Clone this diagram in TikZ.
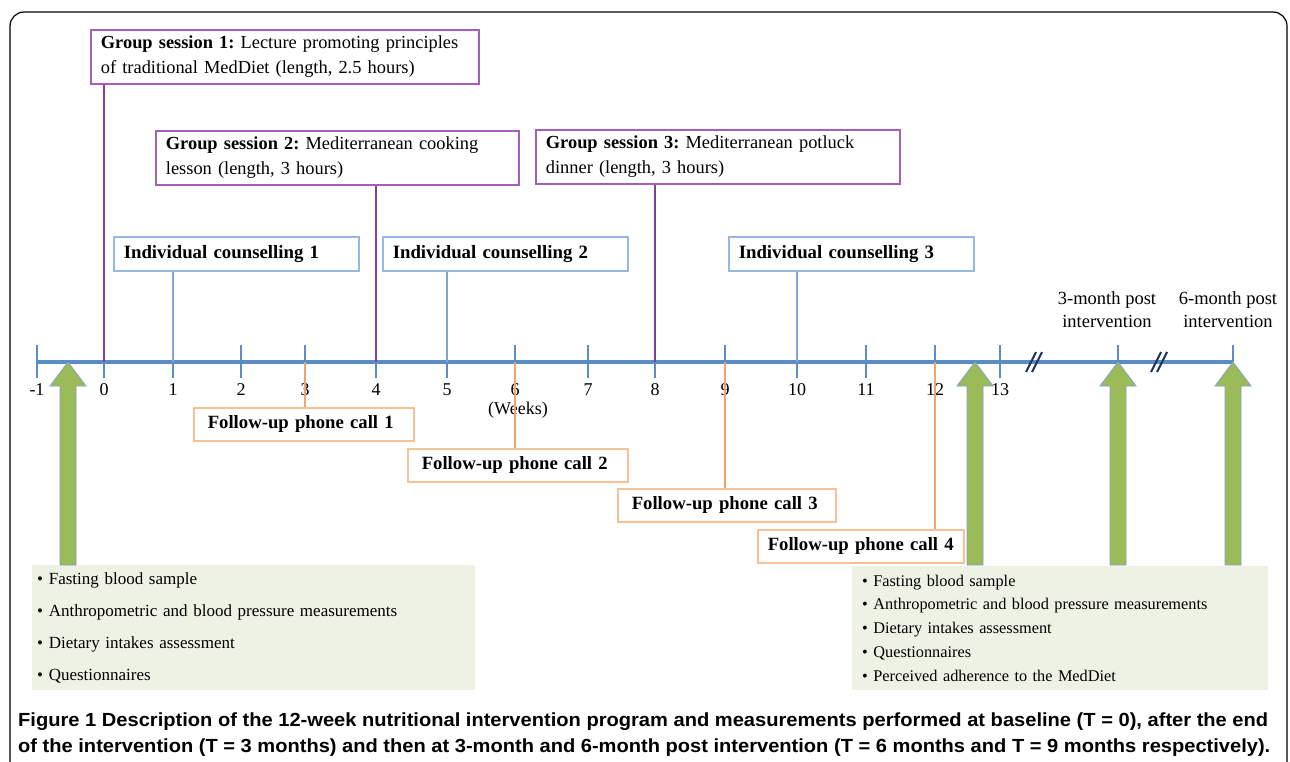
\documentclass[tikz,border=0pt]{standalone}
\usepackage{fontspec}
\setmainfont{Liberation Serif}
\setsansfont{Liberation Sans}
\usetikzlibrary{positioning,calc}
\definecolor{gspurple}{RGB}{165,95,185}
\definecolor{gsdark}{RGB}{135,60,160}
\definecolor{icblue}{RGB}{150,185,225}
\definecolor{iclinecol}{RGB}{125,165,215}
\definecolor{axisblue}{RGB}{90,140,200}
\definecolor{fuorange}{RGB}{248,192,150}
\definecolor{fulinecol}{RGB}{240,165,110}
\definecolor{measgreen}{RGB}{155,187,89}
\definecolor{measedge}{RGB}{130,160,200}
\definecolor{boxgreen}{RGB}{238,242,228}
\definecolor{breakblue}{RGB}{30,50,90}
\frenchspacing

\begin{document}
\begin{tikzpicture}[x=1pt,y=-1pt,
  gsbox/.style={draw=gspurple,line width=1.8,anchor=north west,align=left,inner xsep=10,inner ysep=0,minimum height=54,font=\fontsize{18.4}{25}\selectfont},
  icbox/.style={draw=icblue,line width=1.5,anchor=north west,align=left,inner xsep=10,inner ysep=0,minimum height=34,text width=225,font=\bfseries\fontsize{18.8}{22}\selectfont},
  fubox/.style={draw=fuorange,line width=1.5,anchor=north west,align=left,inner xsep=14,inner ysep=0,minimum height=33,font=\bfseries\fontsize{18.7}{22}\selectfont},
  measbox/.style={fill=boxgreen,anchor=north west,align=left,inner ysep=0},
  gsline/.style={gsdark,line width=1.6},
  icline/.style={iclinecol,line width=1.3},
  fuline/.style={fulinecol,line width=1.3},
  tickmark/.style={axisblue,line width=2.5},
  weeknum/.style={inner sep=0,font=\fontsize{18}{20}\selectfont},
  postlbl/.style={inner sep=0,align=center,font=\fontsize{18.5}{23}\selectfont},
  breakmark/.style={breakblue,line width=2},
  capline/.style={inner sep=0,anchor=west,font=\sffamily\bfseries\fontsize{19}{22}\selectfont},
  measarrow/.pic={\filldraw[fill=measgreen,draw=measedge,line width=0.8]
    (-8,0) -- (-8,-179) -- (-18,-179) -- (0,-203) -- (18,-179) -- (8,-179) -- (8,0) -- cycle;}]
\useasboundingbox (0,0) rectangle (1290,761);
\draw[line width=1.2,rounded corners=14] (10,775) -- (10,12) -- (1287,12) -- (1287,775);

\node[gsbox,text width=368] (gs1) at (90,29) {\textbf{Group session 1:} Lecture promoting principles\\of traditional MedDiet (length, 2.5 hours)};
\node[gsbox,text width=343] (gs2) at (155,130) {\textbf{Group session 2:} Mediterranean cooking\\lesson (length, 3 hours)};
\node[gsbox,text width=344] (gs3) at (535,129) {\textbf{Group session 3:} Mediterranean potluck\\dinner (length, 3 hours)};

\node[icbox] (ic1) at (113,236) {Individual counselling 1};
\node[icbox] (ic2) at (382,236) {Individual counselling 2};
\node[icbox] (ic3) at (728,236) {Individual counselling 3};

\node[fubox,text width=192] (fu1) at (193,407) {Follow-up phone call 1};
\node[fubox,text width=192] (fu2) at (407,448) {Follow-up phone call 2};
\node[fubox,text width=190] (fu3) at (617,488) {Follow-up phone call 3};
\node[fubox,inner xsep=10,text width=186] (fu4) at (757,529) {Follow-up phone call 4};

\draw[axisblue,line width=3.2] (37,362) -- (1233,362);
\foreach \k/\xx in {-1/37,0/104,1/173,2/241,3/305,4/376,5/447,6/515,7/588,8/655,9/725,10/797,11/866,12/935,13/1000} {
  \coordinate (t\k) at (\xx,362);
  \draw[tickmark] (\xx,345) -- (\xx,378);
  \node[weeknum] (n\k) at (\xx,390) {\k};
}
\coordinate (t3m) at (1118,362);
\coordinate (t6m) at (1233,362);
\draw[tickmark] (1118,345) -- (1118,378);
\draw[tickmark] (1233,345) -- (1233,378);
\foreach \bx in {1035,1160} {
  \draw[breakmark] (\bx-9,372) -- (\bx+1,352);
  \draw[breakmark] (\bx-3,372) -- (\bx+7,352);
}
\node[weeknum] (weeks) at (518,410) {(Weeks)};
\node[postlbl] (post3) at (1107,310) {3-month post\\intervention};
\node[postlbl] (post6) at (1228,310) {6-month post\\intervention};

\draw[gsline] (gs1.south -| t0) -- (t0);
\draw[gsline] (gs2.south -| t4) -- (t4);
\draw[gsline] (gs3.south -| t8) -- (t8);
\draw[icline] (ic1.south -| t1) -- (t1);
\draw[icline] (ic2.south -| t5) -- (t5);
\draw[icline] (ic3.south -| t10) -- (t10);
\draw[fuline] (t3) -- (fu1.north -| t3);
\draw[fuline] (t6) -- (fu2.north -| t6);
\draw[fuline] (t9) -- (fu3.north -| t9);
\draw[fuline] (t12) -- (fu4.north -| t12);

\node[measbox,minimum height=125,inner xsep=5,text width=433,font=\fontsize{17}{32}\selectfont] (base) at (32,565)
  {• Fasting blood sample\\• Anthropometric and blood pressure measurements\\• Dietary intakes assessment\\• Questionnaires};
\node[measbox,minimum height=124,inner xsep=10,text width=396,font=\fontsize{16.3}{23.8}\selectfont] (post) at (852,566)
  {• Fasting blood sample\\• Anthropometric and blood pressure measurements\\• Dietary intakes assessment\\• Questionnaires\\• Perceived adherence to the MedDiet};

\pic at (68,565) {measarrow};
\pic at (975,565) {measarrow};
\pic at (1118,565) {measarrow};
\pic at (1233,565) {measarrow};

\node[capline] (cap1) at (18,722) {\resizebox{1250pt}{\height}{Figure 1 Description of the 12-week nutritional intervention program and measurements performed at baseline (T = 0), after the end}};
\node[capline] (cap2) at (18,748) {\resizebox{1252pt}{\height}{of the intervention (T = 3 months) and then at 3-month and 6-month post intervention (T = 6 months and T = 9 months respectively).}};
\end{tikzpicture}
\end{document}
